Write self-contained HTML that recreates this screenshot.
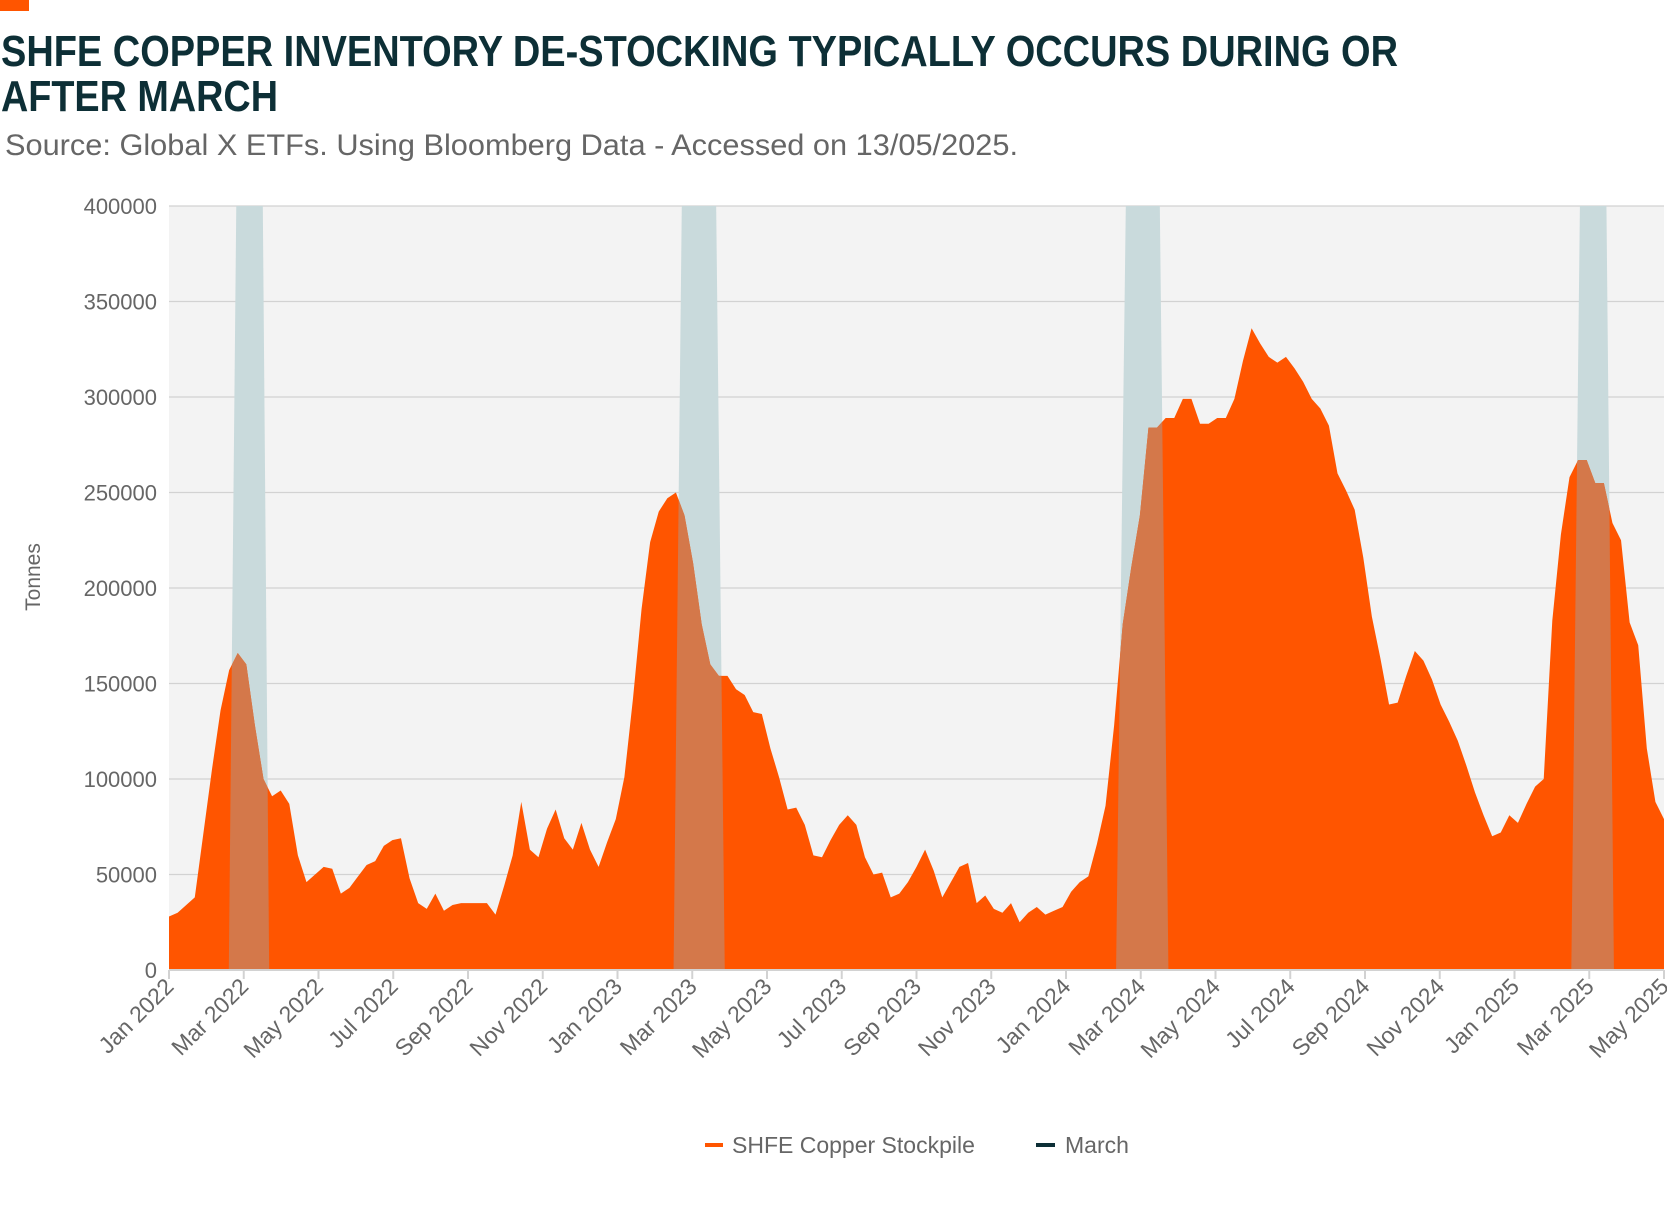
<!DOCTYPE html>
<html><head><meta charset="utf-8"><style>
html,body{margin:0;padding:0;background:#fff;}
svg{display:block;font-family:"Liberation Sans",sans-serif;}
</style></head><body>
<svg id="chart" width="1667" height="1212" viewBox="0 0 1667 1212">
<rect x="0" y="0" width="29" height="11" fill="#ff5500"/>
<text x="1" y="66" font-size="44" font-weight="bold" fill="#0d2f36" textLength="1397" lengthAdjust="spacingAndGlyphs">SHFE COPPER INVENTORY DE-STOCKING TYPICALLY OCCURS DURING OR</text>
<text x="1" y="111" font-size="44" font-weight="bold" fill="#0d2f36" textLength="277" lengthAdjust="spacingAndGlyphs">AFTER MARCH</text>
<text x="5" y="155" font-size="30" fill="#666" textLength="1013" lengthAdjust="spacingAndGlyphs">Source: Global X ETFs. Using Bloomberg Data - Accessed on 13/05/2025.</text>
<rect x="169" y="206" width="1495" height="764" fill="#f3f3f3"/>
<g id="grid"></g>
<g id="bandsBg"></g>
<g id="area"></g>
<g id="bandsOver"></g>
<g id="axes"></g>
<text transform="translate(40,577) rotate(-90)" text-anchor="middle" font-size="21" fill="#666">Tonnes</text>
<g>
<line x1="705" y1="1145" x2="723" y2="1145" stroke="#ff5500" stroke-width="4"/>
<text x="732" y="1153" font-size="23" fill="#666">SHFE Copper Stockpile</text>
<line x1="1036" y1="1145" x2="1055" y2="1145" stroke="#0d2f36" stroke-width="4"/>
<text x="1065" y="1153" font-size="23" fill="#666">March</text>
</g>
</svg>
<script>
// weekly stockpile values (thousand tonnes), Jan 2022 -> May 2025
const stockpile = [28,30,38,105,136,157,166,160,128,100,91,94,87,60,46,50,54,53,40,43,49,55,57,65,68,69,48,35,32,40,31,34,35,35,35,35,29,44,60,88,63,59,74,84,69,63,77,63,54,67,79,101,142,189,224,240,247,250,238,213,181,160,154,154,147,144,135,134,116,101,84,85,76,60,59,68,76,81,76,59,50,51,38,40,46,54,63,52,38,46,54,56,35,39,32,30,35,25,30,33,29,31,33,41,46,49,66,86,128,181,211,238,284,284,289,289,299,299,286,286,289,289,299,319,336,328,321,318,321,315,308,299,294,285,260,251,241,216,185,163,139,140,154,167,162,152,139,130,120,107,93,81,70,72,81,77,87,96,100,183,228,258,267,267,255,255,234,225,182,170,116,88,79];
// week number of each observation (a couple of weeks missing early in 2022)
const weeks = stockpile.map((_, i) => i < 2 ? i : (i === 2 ? 3 : i + 2));
// March band extents in months from Jan 2022: [bottomStart, topStart, topEnd, bottomEnd]
const bandBottomStart = [1.6, 13.5, 25.34, 37.52];
const bandTopStart = [1.8, 13.72, 25.6, 37.75];
const bandTopEnd = [2.51, 14.64, 26.51, 38.46];
const bandBottomEnd = [2.68, 14.87, 26.74, 38.66];
const bandValue = 400;
const yTicks = [0,50000,100000,150000,200000,250000,300000,350000,400000];
const xTickLabels = ["Jan 2022","Mar 2022","May 2022","Jul 2022","Sep 2022","Nov 2022","Jan 2023","Mar 2023","May 2023","Jul 2023","Sep 2023","Nov 2023","Jan 2024","Mar 2024","May 2024","Jul 2024","Sep 2024","Nov 2024","Jan 2025","Mar 2025","May 2025"];

const L=169,R=1664,T=206,B=970,NS="http://www.w3.org/2000/svg";
const totalMonths=40;
const lastWeek=weeks[weeks.length-1];
function xm(m){return L+m/totalMonths*(R-L);}
function xw(w){return L+w/lastWeek*(R-L);}
function y(v){return B-v/400*(B-T);}
function mk(tag,attrs,parent){const e=document.createElementNS(NS,tag);for(const k in attrs)e.setAttribute(k,attrs[k]);parent.appendChild(e);return e;}

const grid=document.getElementById('grid'),axes=document.getElementById('axes');
yTicks.forEach(t=>{
  const yy=y(t/1000);
  if(t>0){const gl=mk('line',{x1:L,x2:R,y1:yy,y2:yy,stroke:'#d2d2d2','stroke-width':1.3},grid);
  
  }
  const tx=mk('text',{x:157,y:yy+8,'text-anchor':'end','font-size':22,fill:'#666'},axes);
  tx.textContent=t;
  
  
});
const base=mk('line',{x1:L,x2:R,y1:B,y2:B,stroke:'#d2d2d2','stroke-width':2},axes);


xTickLabels.forEach((lab,k)=>{
  const xx=xm(k*2);
  const tk=mk('line',{x1:xx,x2:xx,y1:B,y2:B+9,stroke:'#d2d2d2','stroke-width':2},axes);
  
  
  const tx=mk('text',{transform:`translate(${xx+6},${B+18}) rotate(-45)`,'text-anchor':'end','font-size':23,fill:'#666'},axes);
  tx.textContent=lab;
  
  
});

function bandPts(i){return `${xm(bandBottomStart[i])},${B} ${xm(bandTopStart[i])},${y(bandValue)} ${xm(bandTopEnd[i])},${y(bandValue)} ${xm(bandBottomEnd[i])},${B}`;}
let d=`M${xw(weeks[0])},${B}`;
stockpile.forEach((v,i)=>{d+=` L${xw(weeks[i])},${y(v)}`;});
d+=` L${xw(lastWeek)},${B} Z`;
const defs=mk('defs',{},document.getElementById('chart'));
const cp=mk('clipPath',{id:'areaClip'},defs);
mk('path',{d:d},cp);
const bb=document.getElementById('bandsBg'),bo=document.getElementById('bandsOver');
bandTopStart.forEach((_,i)=>{
  const p=mk('polygon',{points:bandPts(i),fill:'#c9dadc'},bb);
  
  
});
const area=mk('path',{d:d,fill:'#ff5500'},document.getElementById('area'));


bandTopStart.forEach((_,i)=>{
  const p=mk('polygon',{points:bandPts(i),fill:'#d4784a','clip-path':'url(#areaClip)'},bo);
  
  
});
</script>
</body></html>
